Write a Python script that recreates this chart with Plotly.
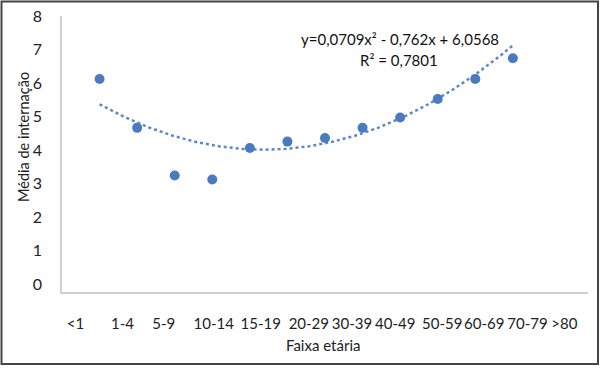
import numpy as np
import plotly.graph_objects as go

# ---- data ----
age_groups = ["<1", "1-4", "5-9", "10-14", "15-19", "20-29", "30-39", "40-49",
              "50-59", "60-69", "70-79", ">80"]
x_index = [1, 2, 3, 4, 5, 6, 7, 8, 9, 10, 11, 12]
media_internacao = [6.12, 4.66, 3.24, 3.12, 4.06, 4.25, 4.36, 4.66, 4.97, 5.52, 6.12, 6.74]
y_ticks = [0, 1, 2, 3, 4, 5, 6, 7, 8]

# trendline coefficients as printed on the chart
coef_a, coef_b, coef_c = 0.0709, -0.762, 6.0568
eq_text = "y=0,0709x² - 0,762x + 6,0568"
r2_text = "R² = 0,7801"

# ---- layout helpers (positions of the age-group labels, in axis units) ----
label_pos = [0.36, 1.61, 2.71, 4.04, 5.29, 6.57, 7.72, 8.87, 10.12, 11.24, 12.39, 13.37]

FONT = "Lato, 'Open Sans', sans-serif"
BLUE = "#4A7BC0"

xt = np.linspace(min(x_index), max(x_index), 200)
yt = coef_a * xt ** 2 + coef_b * xt + coef_c

fig = go.Figure()
fig.add_trace(go.Scatter(x=xt, y=yt, mode="lines",
                         line=dict(color="#5B88C8", width=2.5, dash="dot"),
                         hoverinfo="skip", showlegend=False))
fig.add_trace(go.Scatter(x=x_index, y=media_internacao, mode="markers",
                         marker=dict(color=BLUE, size=10),
                         showlegend=False))

W, H = 600, 377
L, R, T, B = 62, 12, 16, 85
pw, ph = W - L - R, H - T - B

def px2paper_x(px):
    return (px - L) / pw

def px2paper_y(py):
    return (H - B - py) / ph

fig.update_layout(
    width=W, height=H,
    margin=dict(l=L, r=R, t=T, b=B, autoexpand=False),
    paper_bgcolor="white", plot_bgcolor="white",
    font=dict(family=FONT, size=15, color="#222222"),
    xaxis=dict(range=[0, 14], showgrid=False, zeroline=False, automargin=False,
               showline=True, linecolor="#D0D0D0", linewidth=1.5,
               tickmode="array", tickvals=label_pos, ticktext=age_groups,
               tickangle=0,
               ticks="outside", ticklen=17, tickcolor="rgba(0,0,0,0)",
               tickfont=dict(family=FONT, size=15, color="#222222")),
    yaxis=dict(range=[-0.24, 8.0], showgrid=False, zeroline=False, automargin=False,
               showline=True, linecolor="#D0D0D0", linewidth=1.5,
               tickmode="array", tickvals=y_ticks,
               ticks="outside", ticklen=15, tickcolor="rgba(0,0,0,0)",
               tickfont=dict(family=FONT, size=16, color="#222222")),
    annotations=[
        dict(text="Faixa etária", xref="paper", yref="paper",
             x=px2paper_x(323), y=px2paper_y(345), showarrow=False,
             xanchor="center", yanchor="middle",
             font=dict(family=FONT, size=15, color="#222222")),
        dict(text="Média de internação", xref="paper", yref="paper",
             x=px2paper_x(23), y=px2paper_y(137), showarrow=False,
             textangle=-90, xanchor="center", yanchor="middle",
             font=dict(family=FONT, size=14.5, color="#222222")),
        dict(text=eq_text, xref="paper", yref="paper",
             x=px2paper_x(400), y=px2paper_y(39), showarrow=False,
             xanchor="center", yanchor="middle",
             font=dict(family=FONT, size=15, color="#111111")),
        dict(text=r2_text, xref="paper", yref="paper",
             x=px2paper_x(399), y=px2paper_y(60), showarrow=False,
             xanchor="center", yanchor="middle",
             font=dict(family=FONT, size=15, color="#111111")),
    ],
    shapes=[
        dict(type="rect", xref="paper", yref="paper",
             x0=px2paper_x(1.5), x1=px2paper_x(598), y0=px2paper_y(364), y1=px2paper_y(1.5),
             line=dict(color="#444444", width=2), fillcolor="rgba(0,0,0,0)", layer="above"),
    ],
)

fig.write_html("out.html", config={"displayModeBar": False},
               post_script="document.body.style.margin='0';document.body.style.padding='0';")
